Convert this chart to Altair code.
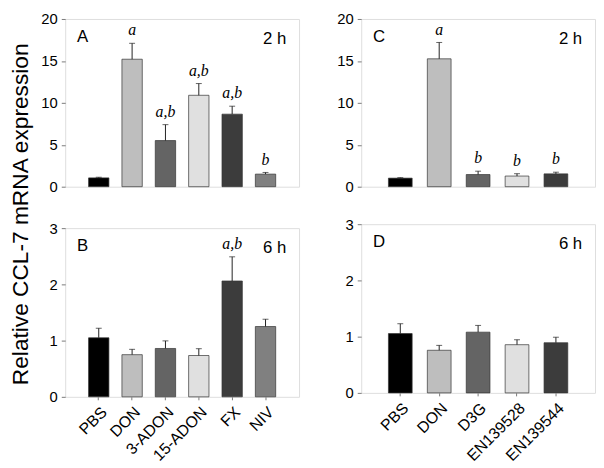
import altair as alt
import pandas as pd

# ---- data ----
cats_left = ["PBS", "DON", "3-ADON", "15-ADON", "FX", "NIV"]
cats_right = ["PBS", "DON", "D3G", "EN139528", "EN139544"]

colors_left = ["#000000", "#bebebe", "#646464", "#e0e0e0", "#3c3c3c", "#808080"]
colors_right = ["#000000", "#bebebe", "#646464", "#e0e0e0", "#3c3c3c"]

a_vals = [1.05, 15.2, 5.5, 10.9, 8.65, 1.5]
a_errs = [1.12, 17.1, 7.4, 12.3, 9.6, 1.7]
a_sig = ["", "a", "a,b", "a,b", "a,b", "b"]

b_vals = [1.05, 0.75, 0.86, 0.735, 2.06, 1.25]
b_errs = [1.22, 0.845, 0.995, 0.856, 2.49, 1.38]
b_sig = ["", "", "", "", "a,b", ""]

c_vals = [1.02, 15.25, 1.45, 1.27, 1.53]
c_errs = [1.08, 17.2, 1.85, 1.55, 1.73]
c_sig = ["", "a", "b", "b", "b"]

d_vals = [1.055, 0.758, 1.08, 0.857, 0.892]
d_errs = [1.23, 0.845, 1.20, 0.945, 0.99]
d_sig = ["", "", "", "", ""]

y_title = "Relative CCL-7 mRNA expression"

W = 237
H_TOP = 170
H_BOT = 171
FRAME = "#7a7a7a"


def panel(cats, vals, errs, sig, colors, letter, time_label, ymax, yvals, height,
          show_x_labels, with_title=False):
    df = pd.DataFrame({"cat": cats, "val": vals, "err": errs, "sig": sig, "color": colors})
    if show_x_labels:
        xaxis = alt.Axis(title=None, labelAngle=-45, labelAlign="right", labelBaseline="top",
                         labelFontSize=16, labelFont="Liberation Sans", labelColor="black",
                         labelPadding=4, domain=False, ticks=True, tickSize=3,
                         tickColor=FRAME)
    else:
        xaxis = alt.Axis(title=None, labels=False, ticks=False, domain=False)
    x = alt.X("cat:N", sort=cats, axis=xaxis,
              scale=alt.Scale(paddingInner=0.39, paddingOuter=0.7))
    yaxis = alt.Axis(title=None, values=yvals, format="d", grid=False, domain=False,
                     tickSize=4, tickColor=FRAME, labelFontSize=15,
                     labelFont="Liberation Sans", labelColor="black", labelPadding=4)
    yscale = alt.Scale(domain=[0, ymax], nice=False, zero=True)
    base = alt.Chart(df)
    bars = base.mark_bar(stroke="#333333", strokeWidth=0.7).encode(
        x=x, y=alt.Y("val:Q", scale=yscale, axis=yaxis),
        color=alt.Color("color:N", scale=None))
    rule = base.mark_rule(color="#222222", strokeWidth=1).encode(
        x=x, y="val:Q", y2="err:Q")
    cap = base.mark_tick(color="#222222", thickness=1, size=6).encode(x=x, y="err:Q")
    txt = base.mark_text(font="Liberation Serif", fontStyle="italic", fontSize=16,
                         baseline="alphabetic", dy=-8, color="black").encode(
        x=x, y="err:Q", text="sig:N")
    lab = alt.Chart(pd.DataFrame({"t": [letter]})).mark_text(
        align="left", baseline="alphabetic", fontSize=17, font="Liberation Sans",
        color="black").encode(x=alt.value(12), y=alt.value(23), text="t:N")
    tl = alt.Chart(pd.DataFrame({"t": [time_label]})).mark_text(
        align="right", baseline="alphabetic", fontSize=17, font="Liberation Sans",
        color="black").encode(x=alt.value(W - 13), y=alt.value(25), text="t:N")
    layers = [bars, rule, cap, txt, lab, tl]
    if with_title:
        ttl = alt.Chart(pd.DataFrame({"t": [y_title]})).mark_text(
            angle=270, align="center", baseline="middle", fontSize=23,
            font="Liberation Sans", color="black").encode(
            x=alt.value(-45), y=alt.value(198), text="t:N")
        layers.append(ttl)
    return alt.layer(*layers).properties(width=W, height=height)


pA = panel(cats_left, a_vals, a_errs, a_sig, colors_left, "A", "2 h", 20,
           [0, 5, 10, 15, 20], H_TOP, False, with_title=True)
pB = panel(cats_left, b_vals, b_errs, b_sig, colors_left, "B", "6 h", 3,
           [0, 1, 2, 3], H_BOT, True)
pC = panel(cats_right, c_vals, c_errs, c_sig, colors_right, "C", "2 h", 20,
           [0, 5, 10, 15, 20], H_TOP, False)
pD = panel(cats_right, d_vals, d_errs, d_sig, colors_right, "D", "6 h", 3,
           [0, 1, 2, 3], H_BOT, True)

left = alt.vconcat(pA, pB, spacing=42, bounds="flush")
right = alt.vconcat(pC, pD, spacing=38, bounds="flush")

chart = alt.hconcat(left, right, spacing=36).properties(
    padding={"left": 1, "top": 0, "right": 0, "bottom": 0}
).configure_view(stroke=FRAME, strokeWidth=1).configure(background="white")

chart.save("out.html", embed_options={"renderer": "svg", "actions": False})
